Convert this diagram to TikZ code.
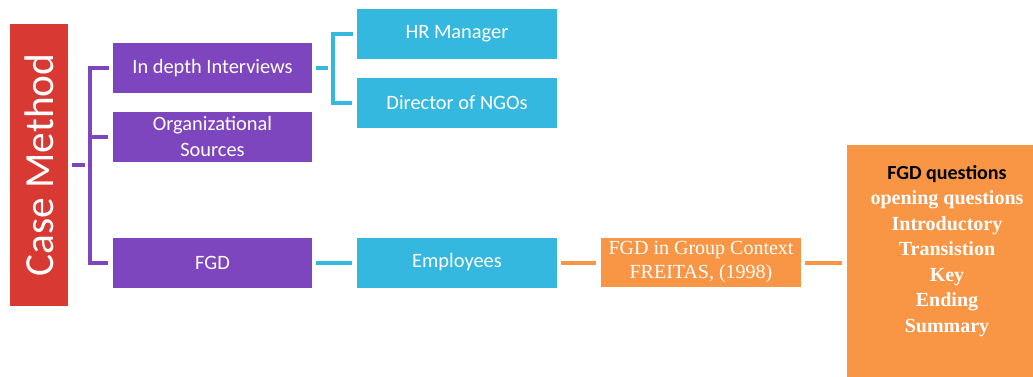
\documentclass[tikz,border=0pt]{standalone}
\usepackage{fontspec}
\setmainfont{Carlito}
\newfontfamily\timesfont{Liberation Serif}
\definecolor{casered}{RGB}{217,57,51}
\definecolor{methpurple}{RGB}{125,70,190}
\definecolor{staffcyan}{RGB}{52,184,223}
\definecolor{fgdorange}{RGB}{249,150,69}
\begin{document}
\begin{tikzpicture}[x=0.75pt,y=-0.75pt]
        \useasboundingbox (0,0) rectangle (1033,376);
        \node (cm) [fill=casered,text=white,rotate=90,inner sep=0pt,minimum width=211.5pt,minimum height=43.5pt,font=\fontsize{31}{31}\selectfont] at (39,165) {Case Method};
        \begin{scope}[every node/.style={fill=methpurple,text=white,inner sep=0pt,minimum width=149.25pt,minimum height=37.5pt,align=center,font=\fontsize{15.3}{19.5}\selectfont}]
            \node (iv) at (212.5,68) {In depth Interviews};
            \node (org) at (212.5,136.5) {Organizational\\Sources};
            \node (fgd) at (212.5,262.5) {FGD};
        \end{scope}
        \begin{scope}[every node/.style={fill=staffcyan,text=white,inner sep=0pt,minimum width=150pt,minimum height=37.5pt,font=\fontsize{15.3}{19.5}\selectfont}]
            \node (hr) at (457,34) {HR Manager};
            \node (dir) at (457,102.5) {Director of NGOs};
            \node (emp) at (457,262.5) {Employees};
        \end{scope}
        \node (ctx) [fill=fgdorange,text=white,inner sep=0pt,minimum width=150pt,minimum height=36.75pt,align=center,font=\timesfont\fontsize{15}{18}\selectfont] at (701,262.5) {FGD in Group Context\\FREITAS, (1998)};
        \node (qbox) [fill=fgdorange,minimum width=150pt,minimum height=176.25pt] at (947,262.5) {};
        \node (qlist) [inner sep=0pt,align=center,text=white,font=\fontsize{15}{19.1}\selectfont] at (947,251)
            {{\color{black}\bfseries FGD questions}\\ {\timesfont\bfseries opening questions}\\ {\timesfont\bfseries Introductory}\\
             {\timesfont\bfseries Transistion}\\ {\timesfont\bfseries Key}\\ {\timesfont\bfseries Ending}\\ {\timesfont\bfseries Summary}};
        % bracket joints
        \coordinate (pj) at (90,165);
        \coordinate (cj) at (333,68);
        \begin{scope}[every path/.style={line width=3pt,shorten <=3pt,shorten >=3.75pt}]
            \draw [methpurple] (cm.south) -- (pj);
            \draw [methpurple] (iv.west) -| (pj) |- (fgd.west);
            \draw [methpurple] (pj) |- (org.west);
            \draw [staffcyan] (iv.east) -- (cj);
            \draw [staffcyan] (hr.west) -| (cj) |- (dir.west);
            \draw [staffcyan] (fgd) -- (emp);
            \draw [fgdorange] (emp) -- (ctx);
            \draw [fgdorange] (ctx) -- (qbox);
        \end{scope}
    \end{tikzpicture}
\end{document}
